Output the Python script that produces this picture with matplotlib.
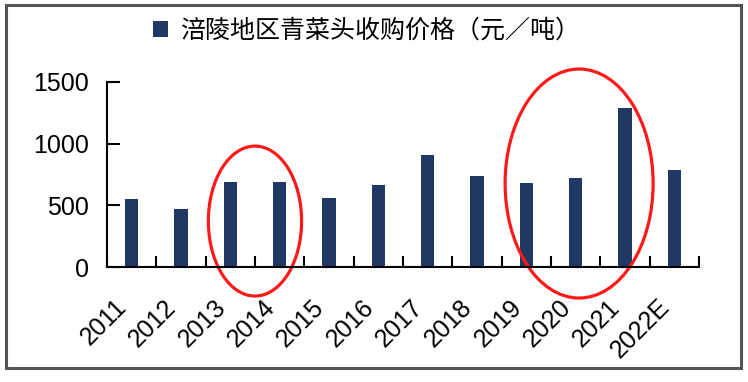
import matplotlib.pyplot as plt
from matplotlib.patches import Ellipse, Rectangle
from matplotlib.ticker import FixedLocator

plt.rcParams['font.family'] = ['Liberation Sans', 'Noto Sans CJK SC', 'DejaVu Sans']

# 涪陵地区青菜头收购价格（元/吨）
years = ['2011', '2012', '2013', '2014', '2015', '2016', '2017', '2018',
         '2019', '2020', '2021', '2022E']
prices = [548, 470, 688, 688, 556, 661, 909, 739, 677, 720, 1290, 788]
series_name = '涪陵地区青菜头收购价格（元／吨）'
bar_color = '#1f3864'

fig = plt.figure(figsize=(7.48, 3.82), dpi=100)
ax = fig.add_axes([0.143, 0.301, 0.7915, 0.485])

x = list(range(len(years)))
ax.bar(x, prices, width=0.27, color=bar_color, label=series_name)

ax.set_xlim(-0.5, len(years) - 0.5)
ax.set_ylim(0, 1500)
ax.set_yticks([0, 500, 1000, 1500])
ax.set_xticks(x)
ax.set_xticklabels(years, rotation=45, ha='right')
ax.xaxis.set_minor_locator(FixedLocator([i - 0.5 for i in range(len(years) + 1)]))
ax.tick_params(axis='x', which='major', length=0, pad=20, labelsize=18)
ax.tick_params(axis='x', which='minor', direction='in', length=8, width=1.5)
ax.tick_params(axis='y', direction='in', length=9, width=1.5, pad=13, labelsize=18)

for s in ['top', 'right']:
    ax.spines[s].set_visible(False)
for s in ['left', 'bottom']:
    ax.spines[s].set_linewidth(1.5)

# 红色圈注
ax.add_patch(Ellipse((2.5, 372), 1.89, 1214, fill=False, edgecolor='#ff1a1a',
                     linewidth=2.3, clip_on=False))
ax.add_patch(Ellipse((9.07, 676), 3.0, 1854, fill=False, edgecolor='#ff1a1a',
                     linewidth=2.3, clip_on=False))

fig.legend(loc='center', bbox_to_anchor=(0.49, 0.92), frameon=False,
           handlelength=0.6, handleheight=0.6, handletextpad=0.5,
           prop={'family': ['Noto Sans CJK SC'], 'size': 18})

# 外框
fig.patches.append(Rectangle((6 / 748, 1 - 368 / 382), 735 / 748, 363 / 382,
                             transform=fig.transFigure, fill=False,
                             edgecolor='#555555', linewidth=2.2))

plt.savefig('out.png', dpi=100)
